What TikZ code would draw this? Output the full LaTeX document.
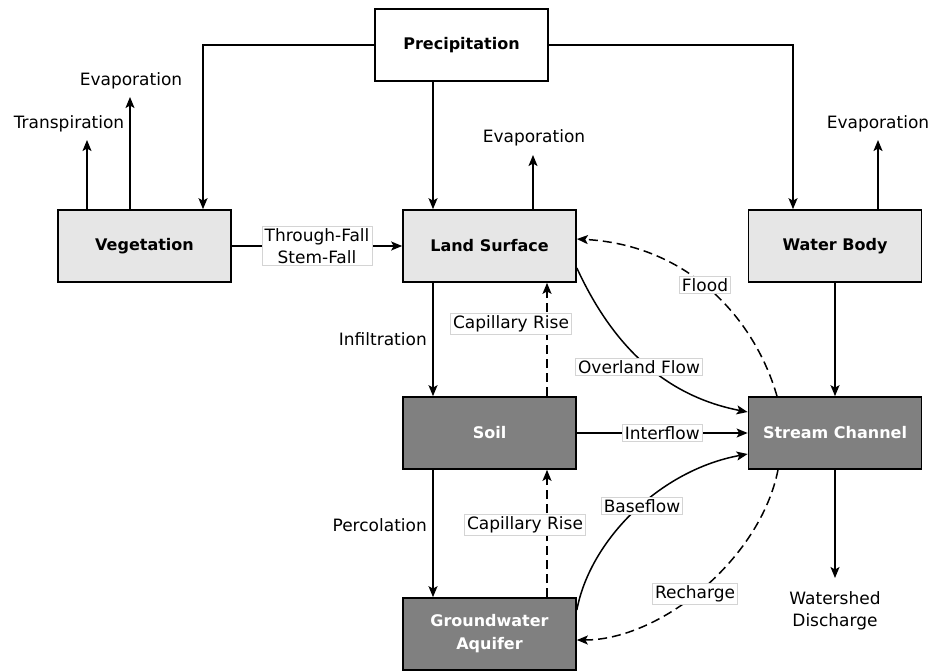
\documentclass[tikz,border=0pt]{standalone}
\usepackage{fontspec}
\setmainfont{DejaVu Sans}
\usetikzlibrary{arrows.meta,positioning,calc}
\definecolor{lightbox}{HTML}{E6E6E6}
\definecolor{darkbox}{HTML}{808080}
\definecolor{lblborder}{HTML}{D4D4D4}
\tikzset{
  box/.style={draw=black, line width=1.7pt, minimum width=173pt, minimum height=72pt,
    inner sep=0pt, align=center, font=\fontsize{16}{23}\selectfont\bfseries},
  lightnode/.style={box, fill=lightbox},
  darknode/.style={box, fill=darkbox, text=white},
  whitenode/.style={box, fill=white},
  flow/.style={line width=1.5pt, -{Stealth[length=11pt,width=9pt,inset=2.5pt]}},
  dflow/.style={flow, dash pattern=on 9pt off 5pt},
  lbl/.style={fill=white, draw=lblborder, line width=0.6pt, inner xsep=2.5pt, inner ysep=2pt,
    font=\fontsize{17}{22}\selectfont, align=center},
  plain/.style={inner sep=0pt, font=\fontsize{17}{22}\selectfont, align=center},
}
\begin{document}
\begin{tikzpicture}[x=1pt,y=-1pt]
\useasboundingbox (0,0) rectangle (932,670);

% boxes
\node[whitenode] (P)  at (461.5,45)  {Precipitation};
\node[lightnode] (V)  at (144.5,246) {Vegetation};
\node[lightnode] (LS) at (489.5,246) {Land Surface};
\node[lightnode] (WB) at (835,246)   {Water Body};
\node[darknode]  (S)  at (489.5,433) {Soil};
\node[darknode]  (SC) at (835,433)   {Stream Channel};
\node[darknode]  (GW) at (489.5,634) {Groundwater\\Aquifer};

% free ends
\coordinate (vt) at (87,140);
\coordinate (ve) at (130,97);
\coordinate (le) at (533,155);
\coordinate (we) at (878,140);
\coordinate (wd) at (835,578);

% plain labels
\node[plain] (tTr) at (69,124)  {Transpiration};
\node[plain] (tEv) at (131,81)  {Evaporation};
\node[plain] (tEl) at (534,138) {Evaporation};
\node[plain] (tEw) at (878,124) {Evaporation};
\node[plain, anchor=east] (tIn) at (427,339) {Infiltration};
\node[plain, anchor=east] (tPe) at (427,525) {Percolation};
\node[plain] (tWD) at (835,611) {Watershed\\Discharge};

% precipitation
\draw[flow] (P.west) -| ([xshift=58.5pt]V.north);
\draw[flow] ([xshift=-28.5pt]P.south) -- ([xshift=-56.5pt]LS.north);
\draw[flow] (P.east) -| ([xshift=-42pt]WB.north);

% evaporation / transpiration
\draw[flow] ([xshift=-57.5pt]V.north) -- (vt);
\draw[flow] ([xshift=-14.5pt]V.north) -- (ve);
\draw[flow] ([xshift=43.5pt]LS.north) -- (le);
\draw[flow] ([xshift=43pt]WB.north) -- (we);

% vegetation -> land surface
\draw[flow] (V.east) -- node[lbl] (tTF) {Through-Fall\\Stem-Fall} (LS.west);

% land surface -> soil, soil -> groundwater
\draw[flow] ([xshift=-56.5pt]LS.south) -- ([xshift=-56.5pt]S.north);
\draw[flow] ([xshift=-56.5pt]S.south) -- ([xshift=-56.5pt]GW.north);

% capillary rise
\draw[dflow] ([xshift=57.5pt]S.north) -- ([xshift=57.5pt]LS.south);
\draw[dflow] ([xshift=57.5pt]GW.north) -- ([xshift=57.5pt]S.south);
\node[lbl] (tCR1) at (511,324) {Capillary Rise};
\node[lbl] (tCR2) at (525,525) {Capillary Rise};

% interflow
\draw[flow] (S.east) -- node[lbl] (tIf) {Interflow} (SC.west);

% water body -> stream, stream -> discharge
\draw[flow] (WB.south) -- (SC.north);
\draw[flow] (SC.south) -- (wd);

% overland flow
\draw[flow] ([yshift=-22pt]LS.east) .. controls (610,340) and (660,395) .. ([yshift=21pt]SC.west);
\node[lbl] (tOF) at (639,367) {Overland Flow};

% baseflow
\draw[flow] ([yshift=24pt]GW.east) .. controls (590,540) and (660,470) .. ([yshift=-21pt]SC.west);
\node[lbl] (tBF) at (642,506) {Baseflow};

% flood
\draw[dflow] ([xshift=-58pt]SC.north) .. controls (755,320) and (690,245) .. ([yshift=7pt]LS.east);
\node[lbl] (tFl) at (705,285) {Flood};

% recharge
\draw[dflow] ([xshift=-57pt]SC.south) .. controls (760,560) and (660,640) .. ([yshift=-6pt]GW.east);
\node[lbl] (tRc) at (695,594) {Recharge};

\end{tikzpicture}
\end{document}
